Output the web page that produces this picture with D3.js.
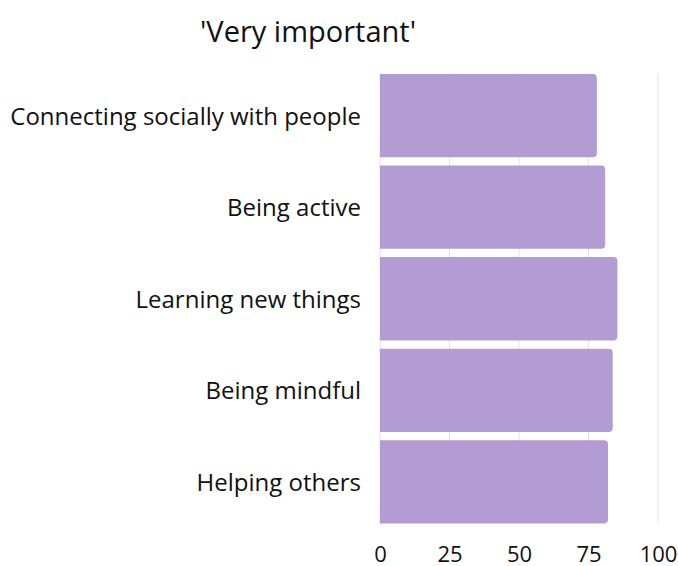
<!DOCTYPE html>
<html><head><meta charset="utf-8">
<script src="https://cdn.jsdelivr.net/npm/d3@7"></script>
<style>body{margin:0;background:#fff}</style>
</head><body>
<svg id="c" width="678" height="566"></svg>
<script>
const categories = ["Connecting socially with people","Being active","Learning new things","Being mindful","Helping others"];
const values = [78, 81, 85.4, 83.7, 82];
const ticks = [0,25,50,75,100];
const title = "'Very important'";

const svg = d3.select("#c");
const font = "'Open Sans', 'Noto Sans', sans-serif";
const x = d3.scaleLinear().domain([0,100]).range([380,658]);
const y = d3.scaleBand().domain(categories).range([74,523.5]).paddingInner(0.09).paddingOuter(0);

svg.append("g").selectAll("line").data(ticks).join("line")
  .attr("x1",d=>x(d)).attr("x2",d=>x(d)).attr("y1",73).attr("y2",523.5)
  .attr("stroke","#e2e2e2").attr("stroke-width",1);

const r = 4;
svg.append("g").selectAll("path").data(categories).join("path")
  .attr("fill","#b39bd4")
  .attr("d",(c,i)=>{
    const x0=x(0), x1=x(values[i]), y0=y(c), h=y.bandwidth();
    return `M${x0},${y0}H${x1-r}Q${x1},${y0} ${x1},${y0+r}V${y0+h-r}Q${x1},${y0+h} ${x1-r},${y0+h}H${x0}Z`;
  });

svg.append("g").selectAll("text").data(categories).join("text")
  .attr("x",361).attr("y",c=>y(c)+y.bandwidth()/2).attr("dy","0.37em")
  .attr("text-anchor","end").attr("font-family",font).attr("font-size",24).attr("fill","#111")
  .text(c=>c);

const ax = svg.append("g").attr("transform","translate(0,523.5)")
  .call(d3.axisBottom(x).tickValues(ticks).tickSize(0).tickPadding(0));
ax.select(".domain").remove();
ax.selectAll("text").attr("y",38.5).attr("dy",null)
  .attr("font-family",font).attr("font-size",22).attr("fill","#111");

svg.append("text").attr("x",308).attr("y",42).attr("text-anchor","middle")
  .attr("font-family",font).attr("font-size",29).attr("fill","#111").text(title);
</script>
</body></html>
